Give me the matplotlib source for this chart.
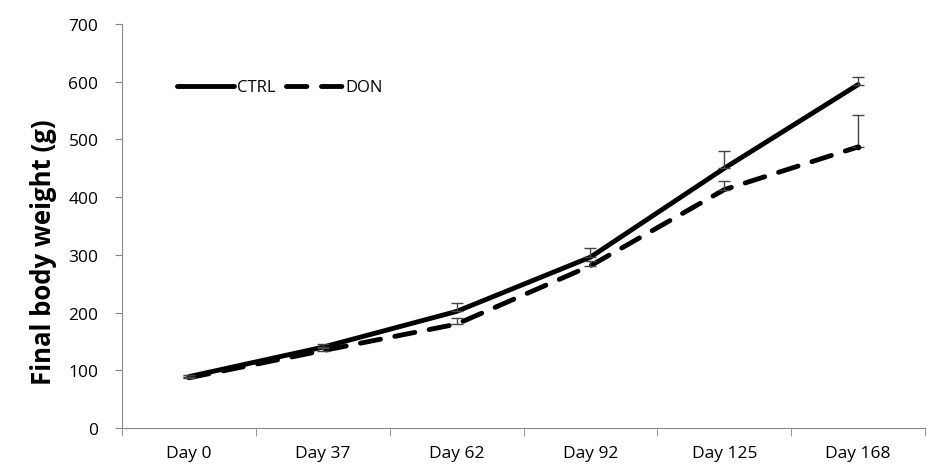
import matplotlib.pyplot as plt
import numpy as np

days = ["Day 0", "Day 37", "Day 62", "Day 92", "Day 125", "Day 168"]
ctrl = [89, 140, 202, 296, 450, 595]
ctrl_err = [2, 6, 15, 16, 30, 13]
don = [87, 134, 180, 281, 413, 487]
don_err = [2, 4, 10, 8, 15, 55]

plt.rcParams['font.family'] = ['Open Sans', 'DejaVu Sans']

fig = plt.figure(figsize=(9.31, 4.77), dpi=100)
ax = fig.add_axes([122 / 931, 48 / 477, 803 / 931, 404 / 477])

x = np.arange(len(days))
ax.plot(x, ctrl, color='black', lw=3.5, solid_capstyle='round', label='CTRL')
ax.plot(x, don, color='black', lw=3.5, dashes=(4.2, 3.0), dash_capstyle='round', label='DON')
ax.errorbar(x, ctrl, yerr=[np.zeros(len(x)), ctrl_err], fmt='none',
            ecolor='#444444', elinewidth=1, capsize=4, capthick=1)
ax.errorbar(x, don, yerr=[np.zeros(len(x)), don_err], fmt='none',
            ecolor='#444444', elinewidth=1, capsize=4, capthick=1)
ax.plot(x[-1], don[-1], 'o', color='black', ms=3)

ax.set_xlim(-0.5, len(days) - 0.5)
ax.set_ylim(0, 700)
ax.set_yticks(range(0, 701, 100))
ax.set_xticks(x)
ax.set_xticklabels(days, fontsize=12.5)
ax.set_xticks(np.arange(-0.5, len(days)), minor=True)
ax.tick_params(axis='x', which='major', length=0, pad=12)
ax.tick_params(axis='x', which='minor', length=6, color='#888888')
ax.tick_params(axis='y', length=5, color='#888888', labelsize=12.5, pad=12)

for s in ['top', 'right']:
    ax.spines[s].set_visible(False)
for s in ['left', 'bottom']:
    ax.spines[s].set_color('#888888')

ax.set_ylabel('Final body weight (g)', fontsize=18.5, fontweight='bold')
ax.yaxis.set_label_coords(-0.081, 0.438)

ax.legend(loc='upper left', bbox_to_anchor=(0.05, 0.9), ncol=2, frameon=False,
          fontsize=12, handlelength=3.4, handletextpad=0.2, columnspacing=0.6)

fig.savefig('out.png', dpi=100)
